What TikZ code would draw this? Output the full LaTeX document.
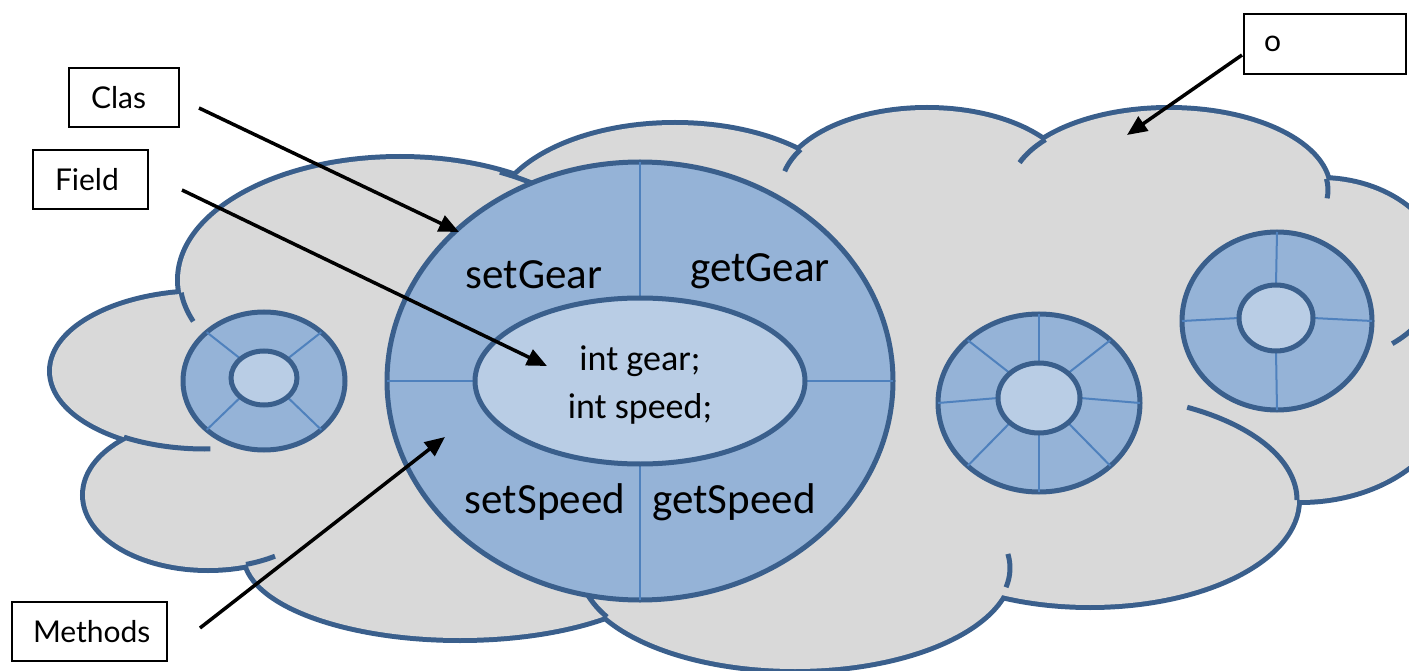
\documentclass[tikz,border=0pt]{standalone}
\usepackage{fontspec}
\setmainfont{Carlito}
\newfontfamily\boxfont{Lato}
\usetikzlibrary{arrows.meta,calc}
\definecolor{cloudfill}{HTML}{D9D9D9}
\definecolor{edgeblue}{HTML}{3A5F8C}
\definecolor{ringblue}{HTML}{95B3D7}
\definecolor{coreblue}{HTML}{B9CDE5}
\definecolor{spokeblue}{HTML}{4F81BD}
\newcommand\hintarc[6]{\draw[hint] (#1,-#2) ++(#5:#3pt and #4pt) arc[start angle=#5,end angle=#6,x radius=#3pt,y radius=#4pt];}
\tikzset{
  hint/.style={draw=edgeblue, line width=5pt},
  spoke/.style={draw=spokeblue, line width=2pt},
  rimline/.style={draw=edgeblue, line width=5pt},
  biglbl/.style={font=\fontsize{43}{50}\selectfont, inner sep=0pt},
  midlbl/.style={font=\fontsize{36}{44}\selectfont, inner sep=0pt},
  tagbox/.style={draw=black, line width=2pt, font=\boxfont\fontsize{30}{36}\selectfont, align=left, anchor=north west, minimum height=59pt, inner ysep=0pt},
  pointer/.style={draw=black, line width=3.5pt, -{Triangle[length=20pt,width=17pt]}}
}
\begin{document}
\begin{tikzpicture}[x=1pt,y=1pt]
\useasboundingbox (0,0) rectangle (1409,-671);
\clip (0,0) rectangle (1409,-671);
% cloud: outline of lobes, then fill on top
\foreach \cx/\cy/\rx/\ry in {205/371/153/78, 208/495/123/73, 400/280/220/121, 675/223/181/98, 927/189/146/79, 1169/190/159/80, 1320/271/120/91, 1300/390/150/110, 1090/500/207/105, 795/568/215/101, 460/555/214/83}
  \draw[edgeblue, line width=10pt] (\cx,-\cy) ellipse [x radius=\rx pt, y radius=\ry pt];
\foreach \cx/\cy/\rx/\ry in {205/371/153/78, 208/495/123/73, 400/280/220/121, 675/223/181/98, 927/189/146/79, 1169/190/159/80, 1320/271/120/91, 1300/390/150/110, 1090/500/207/105, 795/568/215/101, 460/555/214/83}
  \fill[cloudfill] (\cx,-\cy) ellipse [x radius=\rx pt, y radius=\ry pt];
\fill[cloudfill] (640,-250) -- (900,-200) -- (1100,-200) -- (1300,-250) -- (1380,-350) -- (1300,-450) -- (1100,-500) -- (900,-550) -- (700,-550) -- (640,-400) -- cycle;
\fill[cloudfill] (250,-400) -- (400,-330) -- (450,-450) -- (400,-560) -- (250,-520) -- cycle;
% inner hint arcs of the cloud
\hintarc{400}{280}{220}{121}{186}{200}
\hintarc{400}{280}{220}{121}{63}{45}
\hintarc{205}{371}{153}{78}{238}{272}
\hintarc{208}{495}{123}{73}{288}{303}
\hintarc{795}{568}{215}{101}{209}{195}
\hintarc{795}{568}{215}{101}{-11}{8}
\hintarc{1090}{500}{207}{105}{0}{62}
\hintarc{1320}{271}{120}{91}{-35}{-53}
\hintarc{1169}{190}{159}{80}{8}{-6}
\hintarc{1169}{190}{159}{80}{141}{160}
\hintarc{927}{189}{146}{79}{150}{167}
% main object
\draw[rimline, fill=ringblue] (640,-381) ellipse [x radius=253pt, y radius=219pt];
\foreach \t in {0,90,180,270}
  \draw[spoke] ($(640,-381)+(\t:165pt and 83pt)$) -- ($(640,-381)+(\t:253pt and 219pt)$);
\draw[rimline, fill=coreblue] (640,-381) ellipse [x radius=165pt, y radius=83pt];
% left small object
\draw[rimline, fill=ringblue] (264,-381) ellipse [x radius=81pt, y radius=69pt];
\foreach \t in {45,135,225,315}
  \draw[spoke] ($(264,-378)+(\t:33pt and 27pt)$) -- ($(264,-381)+(\t:81pt and 69pt)$);
\draw[rimline, fill=coreblue] (264,-378) ellipse [x radius=33pt, y radius=27pt];
% middle-right object
\draw[rimline, fill=ringblue] (1039,-403) ellipse [x radius=101pt, y radius=89pt];
\foreach \t in {0,45,...,315}
  \draw[spoke] ($(1039,-398)+(\t:41pt and 35pt)$) -- ($(1039,-403)+(\t:101pt and 89pt)$);
\draw[rimline, fill=coreblue] (1039,-398) ellipse [x radius=41pt, y radius=35pt];
% far-right object
\draw[rimline, fill=ringblue] (1277,-321) ellipse [x radius=95pt, y radius=89pt];
\foreach \t in {0,90,180,270}
  \draw[spoke] ($(1276,-318)+(\t:37pt and 33pt)$) -- ($(1277,-321)+(\t:95pt and 89pt)$);
\draw[rimline, fill=coreblue] (1276,-318) ellipse [x radius=37pt, y radius=33pt];
% texts
\node[biglbl, anchor=base] (sg) at (534,-288) {setGear};
\node[biglbl, anchor=base] (gg) at (760,-281) {getGear};
\node[biglbl, anchor=base] (ss) at (545,-513) {setSpeed};
\node[biglbl, anchor=base] (gs) at (734,-513) {getSpeed};
\node[midlbl, anchor=base] (f1) at (640,-370) {int gear;};
\node[midlbl, anchor=base] (f2) at (640,-418) {int speed;};
% label boxes
\node[tagbox, inner xsep=22pt, text width=66pt] (clas) at (68,-67) {Clas};
\node[tagbox, inner xsep=22pt, text width=71pt] (field) at (32,-149) {Field};
\node[tagbox, inner xsep=21pt, text width=113pt] (meth) at (11,-601) {Methods};
\node[tagbox, inner xsep=20pt, text width=122pt, minimum height=60pt] (obj) at (1243,-13) {o};
% arrows
\coordinate (clasTail) at (199,-108);
\coordinate (clasTip) at (459,-232);
\coordinate (fieldTail) at (182,-190);
\coordinate (fieldTip) at (547,-366);
\coordinate (methTail) at (200,-628);
\coordinate (methTip) at (445,-437);
\coordinate (oTail) at (1242,-55);
\coordinate (oTip) at (1127,-135);
\draw[pointer] (clasTail) -- (clasTip);
\draw[pointer] (fieldTail) -- (fieldTip);
\draw[pointer] (methTail) -- (methTip);
\draw[pointer] (oTail) -- (oTip);
\end{tikzpicture}
\end{document}
